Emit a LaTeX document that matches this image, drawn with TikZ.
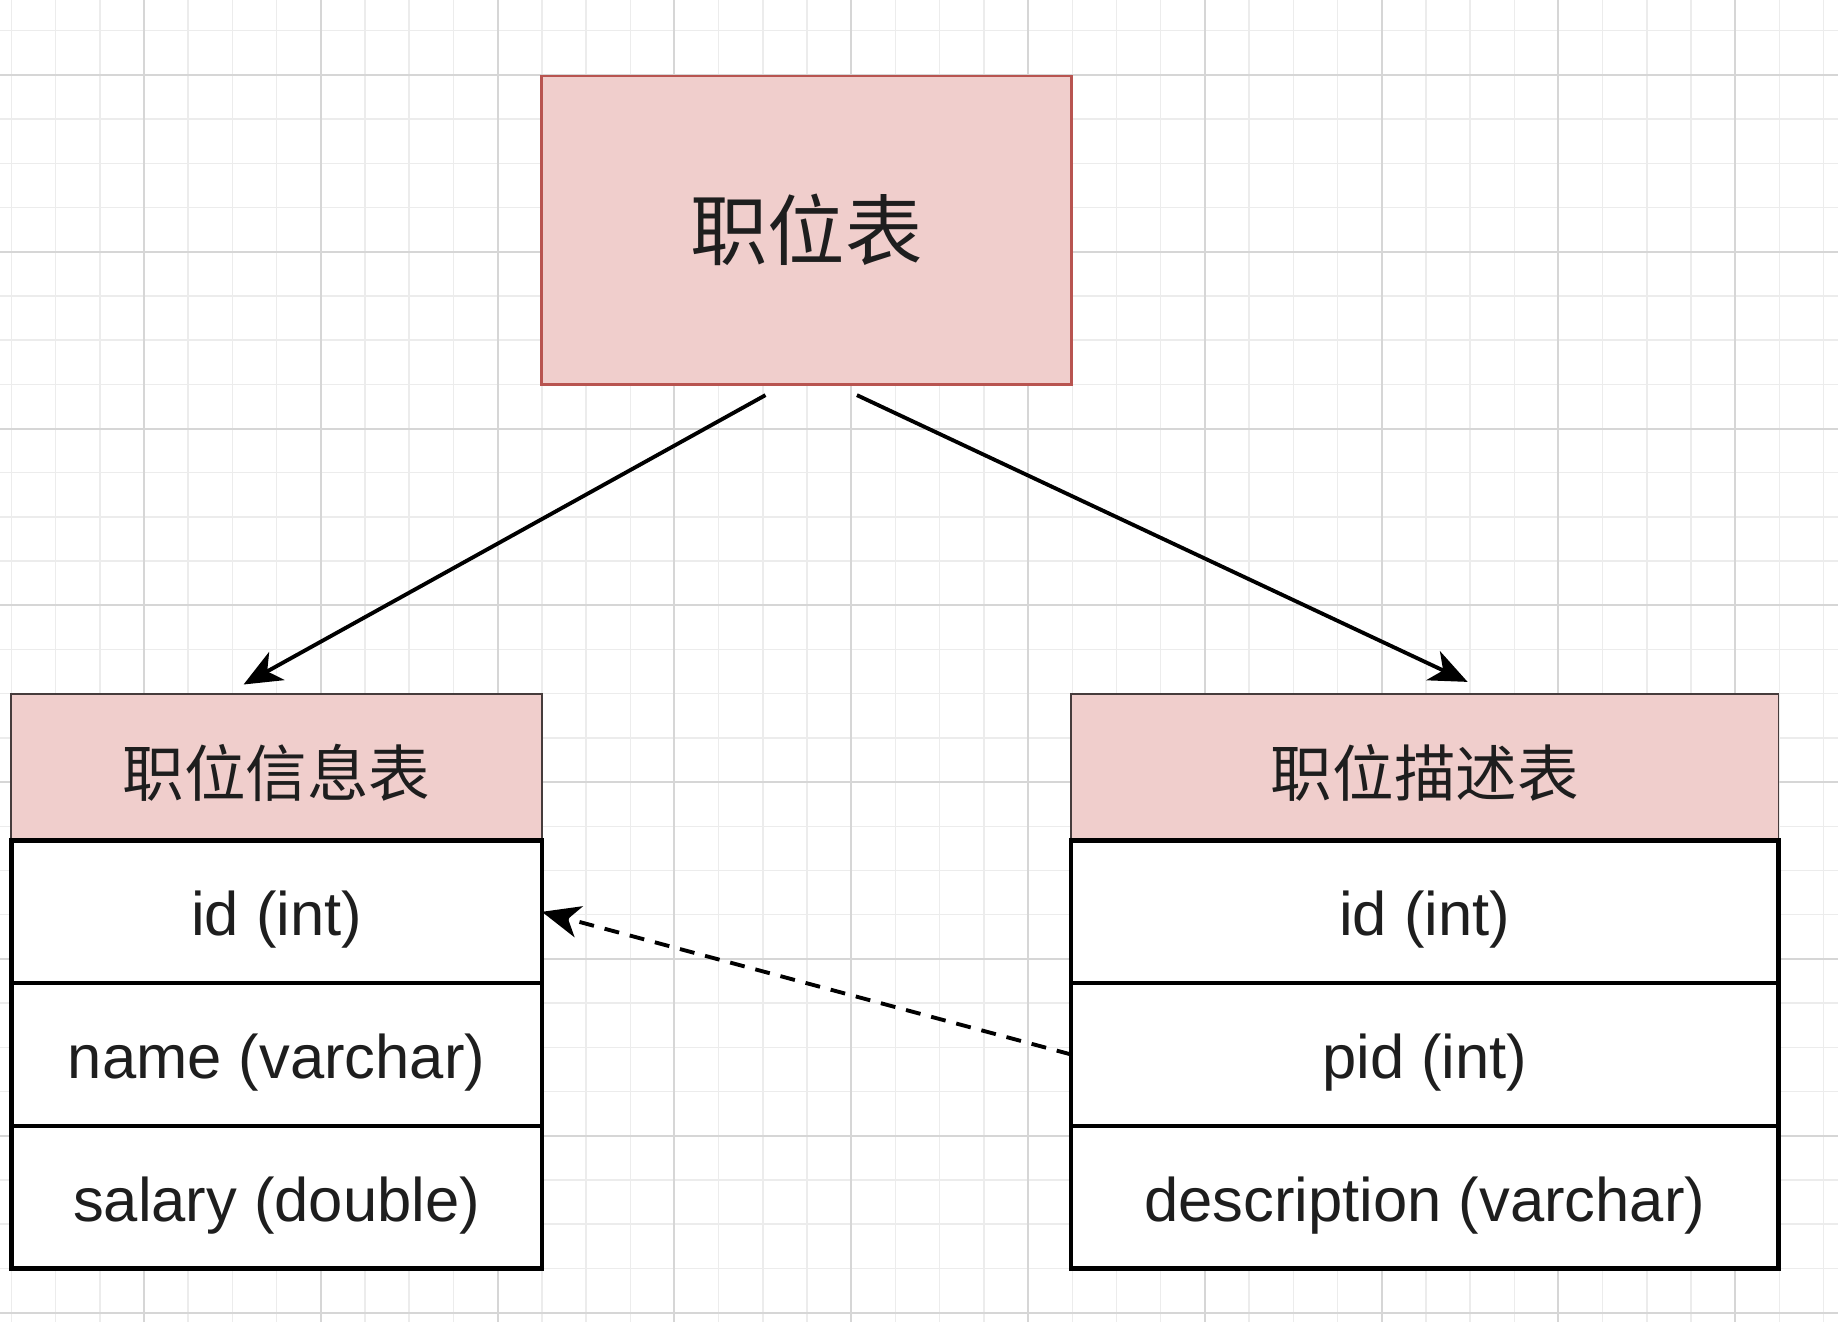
\documentclass[tikz,border=0pt]{standalone}
\usepackage{fontspec}
\setmainfont{Liberation Sans}
\newfontfamily\cjk{Noto Sans CJK SC}
\usetikzlibrary{positioning,arrows.meta}

\definecolor{tabpink}{RGB}{240,206,204}
\definecolor{tabred}{RGB}{184,84,80}
\definecolor{headline}{RGB}{70,60,60}
\definecolor{gridminor}{RGB}{236,236,236}
\definecolor{gridmajor}{RGB}{214,214,214}
\definecolor{txtgray}{RGB}{30,30,30}

\begin{document}
\begin{tikzpicture}[x=0.01cm,y=-0.01cm,
    tabhead/.style={draw=headline,fill=tabpink,line width=0.5pt,minimum height=1.465cm,outer sep=0pt,inner sep=0pt,text height=18.8pt,text depth=2.1pt,font=\cjk\fontsize{17.5}{20}\selectfont,text=txtgray},
    field/.style={draw=black,fill=white,line width=1.3pt,minimum height=1.426cm,outer sep=0pt,inner sep=0pt,text height=17.3pt,text depth=3.7pt,font=\fontsize{17.5}{20}\selectfont,text=txtgray},
    link/.style={line width=1.1pt,-{Stealth[length=0.38cm,width=0.32cm,inset=0.11cm]}}]

\useasboundingbox (0,0) rectangle (1838,1322);
\fill[white] (0,0) rectangle (1838,1322);

% background grid
\foreach \k in {0,...,41} \draw[gridminor,line width=0.4pt] (11.4+44.2*\k,0) -- (11.4+44.2*\k,1322);
\foreach \k in {0,...,29} \draw[gridminor,line width=0.4pt] (0,30.8+44.2*\k) -- (1838,30.8+44.2*\k);
\foreach \k in {0,...,9} \draw[gridmajor,line width=0.6pt] (144+176.8*\k,0) -- (144+176.8*\k,1322);
\foreach \k in {0,...,7} \draw[gridmajor,line width=0.6pt] (0,75+176.8*\k) -- (1838,75+176.8*\k);

\node[draw=tabred,fill=tabpink,line width=0.7pt,minimum width=5.298cm,minimum height=3.085cm,outer sep=0pt,font=\cjk\fontsize{22}{26}\selectfont,text=txtgray] (pos) at (806.5,230.3) {职位表};

\node[tabhead,minimum width=5.304cm] (info) at (276.6,767.2) {职位信息表};
\foreach \prev/\name/\txt in {info/infoid/id (int), infoid/infoname/name (varchar), infoname/infosal/salary (double)} {
    \node[field,minimum width=5.304cm,below=0pt of \prev] (\name) {\txt};
}

\node[tabhead,minimum width=7.068cm] (desc) at (1424.8,767.2) {职位描述表};
\foreach \prev/\name/\txt in {desc/descid/id (int), descid/descpid/pid (int), descpid/desctxt/description (varchar)} {
    \node[field,minimum width=7.068cm,below=0pt of \prev] (\name) {\txt};
}

\coordinate (out1) at ([xshift=-0.41cm,yshift=-0.105cm]pos.south);
\coordinate (out2) at ([xshift=0.504cm,yshift=-0.105cm]pos.south);
\coordinate (in1) at ([xshift=-0.33cm,yshift=0.094cm]info.north);
\coordinate (in2) at ([xshift=0.428cm,yshift=0.12cm]desc.north);

\draw[link] (out1) -- (in1);
\draw[link] (out2) -- (in2);
\draw[link,dash pattern=on 0.15cm off 0.11cm] (descpid.west) -- (infoid.east);
\end{tikzpicture}
\end{document}
